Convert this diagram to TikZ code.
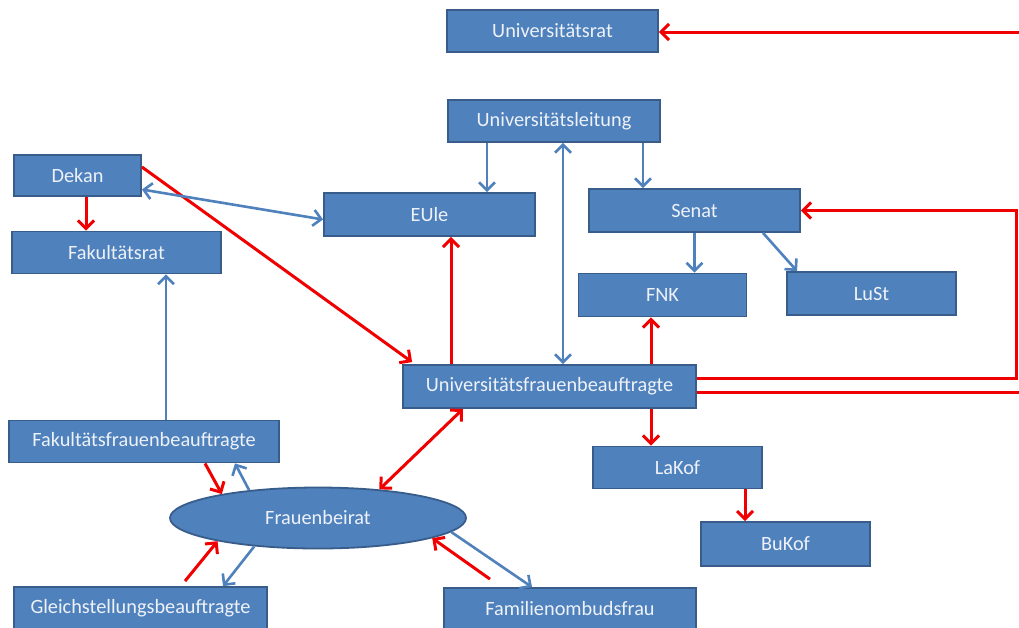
\documentclass[tikz,border=0pt]{standalone}
\usepackage{fontspec}
\setmainfont{Carlito}
\usetikzlibrary{arrows.meta,shapes.geometric}
\definecolor{boxfill}{HTML}{4F81BD}
\definecolor{boxline}{HTML}{385D8A}
\definecolor{redline}{HTML}{F00000}
\definecolor{blueline}{HTML}{4F81BD}
\definecolor{txt}{HTML}{EEF2F8}
\begin{document}
\begin{tikzpicture}[x=1pt,y=-1pt,
  >={Straight Barb[length=8pt,width=16pt]},
  bx/.style={draw=boxline, fill=boxfill, line width=1.8pt, text=txt,
    font=\fontsize{20.3}{24}\selectfont, inner sep=0pt, minimum height=42pt},
  ell/.style={ellipse, draw=boxline, fill=boxfill, line width=1.8pt, text=txt,
    font=\fontsize{20.3}{24}\selectfont, inner sep=0pt, minimum width=296pt, minimum height=61pt},
  rarr/.style={draw=redline, line width=3pt},
  barr/.style={draw=blueline, line width=2.6pt}]
\clip (0,0) rectangle (1019,627);
\fill[white] (0,0) rectangle (1019,627);

\node[bx, minimum width=211pt] (ur) at (552.5,31) {Universitätsrat};
\node[bx, minimum width=212pt] (ul) at (554,121) {Universitätsleitung};
\node[bx, minimum width=127pt, minimum height=41pt] (dek) at (77.5,175.5) {Dekan};
\node[bx, minimum width=209pt] (fr) at (116.5,252.5) {Fakultätsrat};
\node[bx, minimum width=211pt, minimum height=43pt] (eule) at (429.5,214.5) {EUle};
\node[bx, minimum width=211pt, minimum height=43pt] (senat) at (694.5,210.5) {Senat};
\node[bx, minimum width=168pt, minimum height=43pt] (fnk) at (662.5,295) {FNK};
\node[bx, minimum width=169pt, minimum height=43pt] (lust) at (871.5,293.5) {LuSt};
\node[bx, minimum width=293pt, minimum height=43pt] (ufb) at (549.5,386.5) {Universitätsfrauenbeauftragte};
\node[bx, minimum width=270pt] (ffb) at (144,441.5) {Fakultätsfrauenbeauftragte};
\node[ell] (fb) at (318,518) {Frauenbeirat};
\node[bx, minimum width=169pt] (lakof) at (677.5,467.5) {LaKof};
\node[bx, minimum width=169pt, minimum height=44pt] (bukof) at (785.5,544) {BuKof};
\node[bx, minimum width=253pt] (gleich) at (140.5,608) {Gleichstellungsbeauftragte};
\node[bx, minimum width=252pt] (fam) at (570,609) {Familienombudsfrau};

\coordinate (offA) at (1030,32);
\coordinate (offB) at (1030,392);
\coordinate (loopR) at (1016,300);

% red connectors
\draw[rarr,->] (offA) -- ([yshift=-1pt]ur.east);
\draw[rarr,->] ([yshift=8.5pt]ufb.east) -| (loopR) |- (senat.east);
\draw[rarr] ([yshift=-5.5pt]ufb.east) -- (offB);
\draw[rarr,->] ([xshift=101.5pt]ufb.north) -- ([xshift=-11.5pt]fnk.south);
\draw[rarr,->] ([xshift=-98.5pt]ufb.north) -- ([xshift=21.5pt]eule.south);
\draw[rarr,->] ([yshift=8.5pt]dek.east) -- ([xshift=10pt,yshift=2pt]ufb.north west);
\draw[rarr,->] ([xshift=8.5pt]dek.south) -- ([xshift=-30.5pt]fr.north);
\draw[rarr,<->] ([xshift=-86.5pt]ufb.south) -- (fb.25);
\draw[rarr,->] ([xshift=101.5pt]ufb.south) -- ([xshift=-26.5pt]lakof.north);
\draw[rarr,->] ([xshift=67.5pt]lakof.south) -- ([xshift=-40.5pt]bukof.north);
\draw[rarr,->] ([xshift=61pt]ffb.south) -- (fb.166);
\draw[rarr,->] ([xshift=44.5pt,yshift=5pt]gleich.north) -- (fb.193);
\draw[rarr,->] ([xshift=-80pt,yshift=8pt]fam.north) -- (fb.350);

% blue connectors
\draw[barr,->] ([xshift=-67pt]ul.south) -- ([xshift=57.5pt]eule.north);
\draw[barr,->] ([xshift=89pt]ul.south) -- ([xshift=-51.5pt]senat.north);
\draw[barr,<->] ([xshift=9pt]ul.south) -- ([xshift=13.5pt]ufb.north);
\draw[barr,->] (senat.south) -- ([xshift=32pt]fnk.north);
\draw[barr,->] ([xshift=68.5pt]senat.south) -- ([xshift=-74.5pt]lust.north);
\draw[barr,<->] ([yshift=-14pt]dek.east) -- ([yshift=-5pt]eule.west);
\draw[barr,->] ([xshift=22pt]ffb.north) -- ([xshift=49.5pt]fr.south);
\draw[barr,->] (fb.158) -- ([xshift=91pt]ffb.south);
\draw[barr,->] (fb.204) -- ([xshift=82.5pt]gleich.north);
\draw[barr,->] (fb.354) -- ([xshift=-38pt]fam.north);
\end{tikzpicture}
\end{document}
